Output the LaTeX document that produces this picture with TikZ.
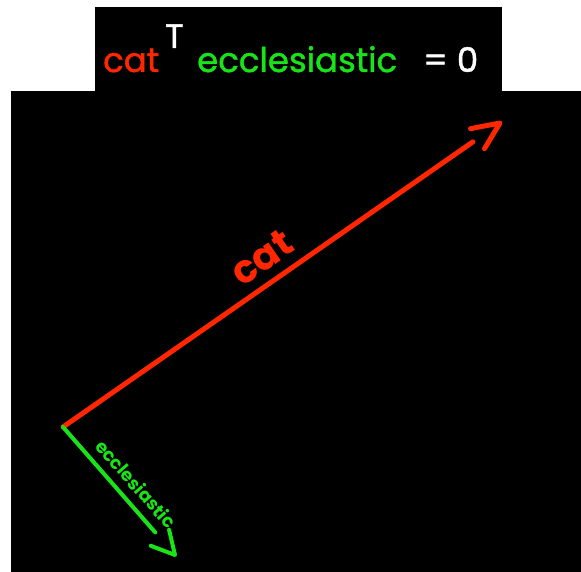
\documentclass[tikz,border=0pt]{standalone}
\usepackage{fontspec}
\setmainfont{Poppins}
\newfontfamily\headfont{Poppins}[FakeBold=1.3]
\usetikzlibrary{calc}
\definecolor{catred}{RGB}{255,38,0}
\definecolor{eccgreen}{RGB}{24,228,24}

\begin{document}
\begin{tikzpicture}[x=1pt, y=-1pt,
    catvec/.style={catred, line width=5pt, line cap=round, line join=round},
    eccvec/.style={eccgreen, line width=4pt, line cap=round, line join=round},
    head/.style={anchor=base west, inner sep=0pt, font=\headfont\fontsize{34}{40}\selectfont}]
    \useasboundingbox (0,0) rectangle (581,572);
    \fill[white] (0,0) rectangle (581,572);
    % Panels
        \fill[black] (11,91) rectangle (581,572);
        \fill[black] (95,7) rectangle (502,91);
    % Title: dot product
        \node[head, text=catred] (hcat) at (103,72) {cat};
        \node[head, text=white] (hT) at (165,48) {T};
        \node[head, text=eccgreen] (hecc) at (197,72) {ecclesiastic};
        \node[head, text=white] (heq) at (423,72) {= 0};
    % Vectors
        \coordinate (o) at (63,427);
        \coordinate (cattip) at (500,123);
        \coordinate (ecctip) at (175,555);
        \draw[catvec] (o) -- ($(cattip)!33pt!(o)$)
            node[pos=0.52, sloped, above=6pt, font=\bfseries\fontsize{39}{40}\selectfont] (catlabel) {cat};
        \draw[catvec] ($(cattip)!30pt!24:(o)$) -- (cattip) -- ($(cattip)!30pt!-24:(o)$);
        \draw[eccvec] (o) -- ($(ecctip)!30pt!(o)$)
            node[pos=0.65, sloped, above=5pt, font=\bfseries\fontsize{18}{20}\selectfont] (ecclabel) {ecclesiastic};
        \draw[eccvec] ($(ecctip)!26pt!28:(o)$) -- (ecctip) -- ($(ecctip)!26pt!-28:(o)$);
\end{tikzpicture}
\end{document}
